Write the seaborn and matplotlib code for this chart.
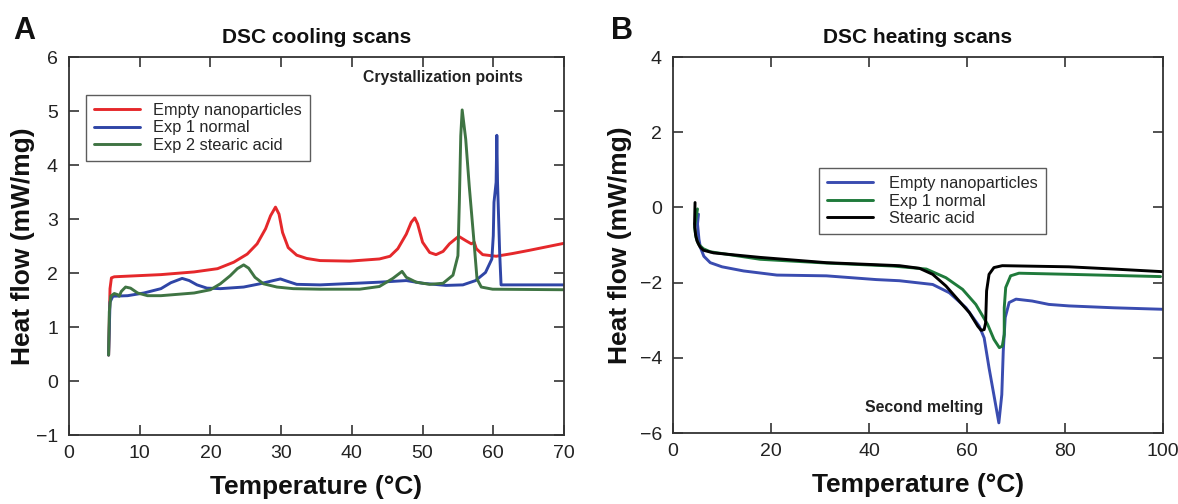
import numpy as np
import pandas as pd
import matplotlib
matplotlib.use("Agg")
import matplotlib.pyplot as plt
import matplotlib.ticker as mticker
import seaborn as sns

# ---- Panel A: DSC cooling scans ----
cool_empty_t = [5.6, 5.8, 6.0, 6.4, 13.0, 17.7, 21.0, 23.3, 25.2, 26.6, 27.8, 28.5, 29.2,
                29.7, 30.2, 31.0, 32.2, 33.6, 35.5, 39.7, 43.9, 45.4, 46.5, 47.7, 48.4, 48.9,
                49.3, 50.0, 51.0, 51.9, 52.9, 53.8, 55.1, 56.1, 56.9, 57.3, 57.6, 58.5, 60.4,
                62.7, 65.1, 70.0]
cool_empty_q = [0.48, 1.71, 1.91, 1.93, 1.97, 2.02, 2.08, 2.20, 2.35, 2.54, 2.82, 3.06, 3.22,
                3.09, 2.75, 2.47, 2.33, 2.27, 2.23, 2.22, 2.26, 2.31, 2.45, 2.72, 2.94, 3.02,
                2.91, 2.57, 2.38, 2.34, 2.40, 2.54, 2.68, 2.60, 2.54, 2.57, 2.45, 2.34, 2.31,
                2.36, 2.42, 2.55]

cool_exp1_t = [5.6, 5.8, 6.2, 8.3, 10.6, 13.0, 14.4, 16.0, 17.0, 18.1, 19.5, 21.4, 24.7,
               27.0, 28.9, 29.9, 30.8, 32.2, 35.5, 43.9, 47.7, 50.0, 53.3, 55.7, 57.5, 58.9,
               59.8, 60.0, 60.1, 60.4, 60.5, 60.6, 60.9, 61.1, 70.0]
cool_exp1_q = [0.48, 1.46, 1.57, 1.58, 1.63, 1.71, 1.82, 1.90, 1.86, 1.78, 1.72, 1.71, 1.74,
               1.80, 1.86, 1.89, 1.85, 1.79, 1.78, 1.83, 1.86, 1.81, 1.77, 1.78, 1.86, 2.01,
               2.26, 2.69, 3.31, 3.68, 4.55, 3.68, 2.38, 1.78, 1.78]

cool_exp2_t = [5.6, 5.7, 5.9, 6.4, 6.85, 7.1, 7.4, 8.0, 8.7, 9.7, 11.1, 13.0, 17.7, 20.0,
               21.4, 22.8, 23.8, 24.7, 25.4, 26.3, 27.5, 29.4, 31.7, 35.5, 41.1, 43.9, 45.8,
               47.1, 47.7, 49.1, 51.0, 52.9, 54.3, 55.0, 55.2, 55.4, 55.6, 56.1, 56.6, 57.2,
               57.7, 58.3, 59.9, 70.0]
cool_exp2_q = [0.48, 1.28, 1.57, 1.62, 1.60, 1.57, 1.66, 1.74, 1.72, 1.63, 1.58, 1.58, 1.63,
               1.69, 1.80, 1.95, 2.08, 2.15, 2.09, 1.92, 1.80, 1.74, 1.71, 1.70, 1.70, 1.75,
               1.90, 2.03, 1.92, 1.83, 1.79, 1.81, 1.96, 2.32, 3.31, 4.54, 5.02, 4.48, 3.61,
               2.69, 1.89, 1.74, 1.70, 1.69]

# ---- Panel B: DSC heating scans ----
heat_empty_t = [5.2, 5.0, 5.3, 5.6, 6.3, 7.6, 10.0, 14.4, 21.2, 31.3, 41.5, 46.2, 53.0, 56.4,
                59.8, 62.5, 63.5, 64.5, 65.6, 66.5, 67.1, 67.4, 67.8, 68.6, 70.0, 73.3, 76.7,
                80.8, 90.0, 100.0]
heat_empty_q = [-0.18, -0.44, -0.85, -1.07, -1.30, -1.47, -1.58, -1.69, -1.80, -1.82, -1.92,
                -1.95, -2.05, -2.27, -2.67, -3.16, -3.47, -4.27, -5.07, -5.73, -4.98, -3.82,
                -2.93, -2.53, -2.44, -2.49, -2.58, -2.62, -2.67, -2.71]

heat_exp1_t = [5.0, 4.4, 4.7, 5.2, 6.2, 7.6, 17.8, 31.3, 44.9, 51.7, 55.7, 59.1, 61.8, 64.2,
               65.5, 66.6, 67.2, 67.6, 67.6, 67.9, 68.9, 70.6, 80.8, 99.5]
heat_exp1_q = [-0.04, -0.53, -0.80, -0.98, -1.10, -1.18, -1.38, -1.48, -1.56, -1.64, -1.87,
               -2.18, -2.58, -3.11, -3.51, -3.73, -3.69, -3.38, -2.67, -2.13, -1.82, -1.75,
               -1.78, -1.84]

heat_sa_t = [4.5, 4.4, 4.6, 4.9, 5.5, 6.2, 8.3, 17.8, 31.3, 46.2, 50.3, 53.0, 55.7, 58.4,
             60.5, 62.2, 62.9, 63.5, 63.8, 64.0, 64.5, 65.5, 67.2, 80.8, 90.0, 100.0]
heat_sa_q = [0.13, -0.44, -0.72, -0.89, -1.05, -1.14, -1.21, -1.33, -1.47, -1.55, -1.62,
             -1.78, -2.09, -2.49, -2.80, -3.16, -3.27, -3.25, -3.07, -2.22, -1.78, -1.60,
             -1.55, -1.58, -1.64, -1.71]

cool = pd.concat([
    pd.DataFrame({'T': cool_empty_t, 'Q': cool_empty_q, 'sample': 'Empty nanoparticles'}),
    pd.DataFrame({'T': cool_exp1_t, 'Q': cool_exp1_q, 'sample': 'Exp 1 normal'}),
    pd.DataFrame({'T': cool_exp2_t, 'Q': cool_exp2_q, 'sample': 'Exp 2 stearic acid'}),
], ignore_index=True)
heat = pd.concat([
    pd.DataFrame({'T': heat_empty_t, 'Q': heat_empty_q, 'sample': 'Empty nanoparticles'}),
    pd.DataFrame({'T': heat_exp1_t, 'Q': heat_exp1_q, 'sample': 'Exp 1 normal'}),
    pd.DataFrame({'T': heat_sa_t, 'Q': heat_sa_q, 'sample': 'Stearic acid'}),
], ignore_index=True)

cool_colors = {'Empty nanoparticles': '#e5282b', 'Exp 1 normal': '#2f45a6',
               'Exp 2 stearic acid': '#3f7443'}
heat_colors = {'Empty nanoparticles': '#3a4cb0', 'Exp 1 normal': '#1f7a3b',
               'Stearic acid': '#000000'}

sns.set_style("ticks")
plt.rcParams['font.family'] = ['Liberation Sans', 'DejaVu Sans']
plt.rcParams['axes.edgecolor'] = '#333333'
plt.rcParams['axes.linewidth'] = 1.3

fig = plt.figure(figsize=(11.78, 5.04), dpi=100)
axA = fig.add_axes([69 / 1178, 69 / 504, 495 / 1178, 378 / 504])
axB = fig.add_axes([673 / 1178, 71 / 504, 490 / 1178, 376 / 504])


def style_axes(ax, title, ylab_x):
    ax.tick_params(direction='in', length=7, width=1.2, top=True, right=True,
                   labelsize=14, colors='#333333', labelcolor='#222222')
    ax.tick_params(axis='y', pad=8)
    ax.tick_params(axis='x', pad=7)
    ax.set_xlabel('Temperature (°C)', fontsize=19, fontweight='bold', color='#111111')
    ax.set_ylabel('Heat flow (mW/mg)', fontsize=19, fontweight='bold', color='#111111')
    ax.xaxis.set_label_coords(0.5, -0.107)
    ax.yaxis.set_label_coords(ylab_x, 0.5)
    ax.set_title(title, fontsize=15, fontweight='bold', pad=10, color='#111111')
    ax.yaxis.set_major_formatter(mticker.FuncFormatter(
        lambda v, p: f"{int(round(v))}".replace('-', '\u2212')))


sns.lineplot(data=cool, x='T', y='Q', hue='sample', palette=cool_colors, sort=False,
             estimator=None, linewidth=2.1, ax=axA)
axA.set_xlim(0, 70)
axA.set_ylim(-1, 6)
axA.set_xticks(range(0, 71, 10))
axA.set_yticks(range(-1, 7))
style_axes(axA, 'DSC cooling scans', -0.069)
axA.text(0.917, 0.947, 'Crystallization points', transform=axA.transAxes, ha='right',
         va='center', fontsize=11.3, fontweight='bold', color='#222222')
legA = axA.legend(loc='upper left', bbox_to_anchor=(0.034, 0.90), borderaxespad=0,
                  fontsize=11.8, frameon=True, fancybox=False, edgecolor='#333333',
                  handlelength=2.8, labelspacing=0.15, borderpad=0.5, handletextpad=0.8)
legA.get_frame().set_linewidth(1.0)

sns.lineplot(data=heat, x='T', y='Q', hue='sample', palette=heat_colors, sort=False,
             estimator=None, linewidth=2.1, ax=axB)
axB.set_xlim(0, 100)
axB.set_ylim(-6, 4)
axB.set_xticks(range(0, 101, 20))
axB.set_yticks(range(-6, 5, 2))
style_axes(axB, 'DSC heating scans', -0.083)
axB.text(0.512, 0.069, 'Second melting', transform=axB.transAxes, ha='center',
         va='center', fontsize=11.4, fontweight='bold', color='#222222')
legB = axB.legend(loc='upper left', bbox_to_anchor=(0.298, 0.705), borderaxespad=0,
                  fontsize=11.8, frameon=True, fancybox=False, edgecolor='#333333',
                  handlelength=2.8, labelspacing=0.15, borderpad=0.5, handletextpad=1.0)
legB.get_frame().set_linewidth(1.0)

fig.text(0.011, 0.923, 'A', fontsize=22, fontweight='bold', color='#111111')
fig.text(0.519, 0.923, 'B', fontsize=22, fontweight='bold', color='#111111')

fig.savefig('out.png', dpi=100)
